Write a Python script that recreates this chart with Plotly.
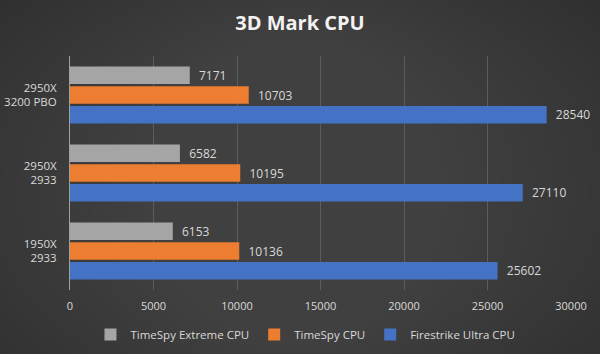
import plotly.graph_objects as go

categories = ["2950X<br>3200 PBO", "2950X<br>2933", "1950X<br>2933"]
series_names = ["TimeSpy Extreme CPU", "TimeSpy CPU", "Firestrike Ultra CPU"]
timespy_extreme = [7171, 6582, 6153]
timespy = [10703, 10195, 10136]
firestrike_ultra = [28540, 27110, 25602]
x_ticks = [0, 5000, 10000, 15000, 20000, 25000, 30000]

colors = ["#a5a5a5", "#ed7d31", "#4472c4"]
values = [timespy_extreme, timespy, firestrike_ultra]

fig = go.Figure()
for name, vals, c in zip(series_names, values, colors):
    fig.add_trace(go.Bar(
        y=categories, x=vals, name=name, orientation="h",
        marker=dict(color=c, line=dict(width=0)),
        text=["  " + str(v) for v in vals], textposition="outside",
        textfont=dict(color="#d9d9d9", size=12, family="Open Sans"),
        cliponaxis=False,
    ))

# soft background vignette (lighter toward the centre), drawn as nested ellipses
shapes = []
steps = 18
for i in range(steps):
    fx = 0.035 * i
    fy = 0.03 * i
    shapes.append(dict(type="circle", xref="paper", yref="paper", layer="below",
                       x0=-0.45 + fx, x1=1.35 - fx, y0=-0.75 + fy, y1=1.6 - fy,
                       fillcolor="rgba(255,255,255,0.009)", line=dict(width=0)))

fig.update_layout(
    width=600, height=354,
    paper_bgcolor="#2e2e2e", plot_bgcolor="rgba(0,0,0,0)",
    shapes=shapes,
    barmode="group", bargap=0.24, bargroupgap=0.12,
    margin=dict(l=70, r=29, t=56, b=64, autoexpand=False),
    title=dict(text="<b>3D Mark CPU</b>", x=0.5, xanchor="center", y=0.935, yanchor="middle",
               font=dict(color="#f2f2f2", size=20, family="Open Sans")),
    font=dict(family="Open Sans", color="#d9d9d9", size=12),
    xaxis=dict(range=[0, 30000], tickvals=x_ticks, ticktext=[str(t) for t in x_ticks],
               showgrid=True, gridcolor="#5c5c5c", gridwidth=1, zeroline=False,
               tickfont=dict(color="#d9d9d9", size=11), ticks="", ticklabelstandoff=8,
               automargin=False),
    yaxis=dict(autorange="reversed", showgrid=False, showline=True, linecolor="#a0a0a0",
               linewidth=1, tickfont=dict(color="#d9d9d9", size=11.5), ticks="",
               ticklabelstandoff=10, automargin=False),
    legend=dict(orientation="h", x=0.47, xanchor="center", y=-0.19, yanchor="middle",
                font=dict(color="#d9d9d9", size=11.5), bgcolor="rgba(0,0,0,0)",
                itemwidth=30, traceorder="normal", itemsizing="constant"),
    showlegend=True,
)

fig.write_html("out.html")
